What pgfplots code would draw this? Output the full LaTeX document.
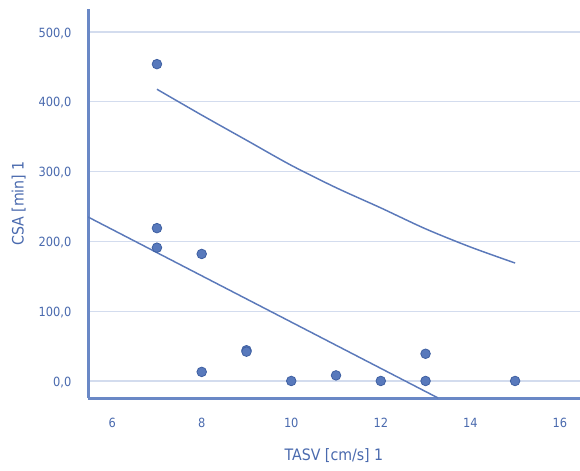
\documentclass[border=0pt]{standalone}
\usepackage{pgfplots}
\pgfplotsset{compat=1.18}
\usepackage{fontspec}
\setmainfont{DejaVu Sans Condensed}
\definecolor{txt}{HTML}{4A6AAE}
\definecolor{spine}{HTML}{6A88C6}
\definecolor{grd}{HTML}{D3DCEE}
\definecolor{ptfill}{HTML}{5879BC}
\definecolor{ptedge}{HTML}{3F60A2}
\definecolor{ln}{HTML}{5B79BA}
\begin{document}
\begin{tikzpicture}
\path[use as bounding box] (0,0) rectangle (435pt,352.5pt);
\begin{axis}[
  at={(66pt,54pt)}, anchor=south west,
  scale only axis, width=369pt, height=291.75pt,
  xmin=5.46, xmax=16.45, ymin=-24.4, ymax=533,
  axis x line*=bottom, axis y line*=left,
  axis line style={spine, line width=2.25pt, -},
  xtick={6,8,10,12,14,16},
  ytick={0,100,200,300,400,500},
  major tick length=0pt,
  ymajorgrids, grid style={grd, line width=1pt},
  tick label style={txt, font=\fontsize{9.5}{11}\selectfont, text height=1.6ex, text depth=0.2ex},
  /pgf/number format/assume math mode=true,
  yticklabel style={/pgf/number format/.cd, fixed, fixed zerofill, precision=1, use comma, 1000 sep={}},
  xticklabel style={/pgf/number format/.cd, fixed, precision=0},
  xticklabel shift=10pt,
  yticklabel shift=9pt,
  xlabel={TASV [cm/s] 1}, ylabel={CSA [min] 1},
  label style={txt, font=\fontsize{11.8}{14}\selectfont},
  xlabel style={at={(axis description cs:0.5,0)}, anchor=center, yshift=-43.5pt},
  ylabel style={at={(axis description cs:0,0.5)}, anchor=center, rotate=0, yshift=52pt},
  clip=true,
]
\addplot[ln, line width=1.1pt] coordinates {(5.46,235) (13.28,-24.4)};
\addplot[ln, line width=1.1pt, smooth] coordinates {
 (7,418) (8,381) (9,345) (10,309) (11,277) (12,248) (13,218) (14,192) (15,169)};
\addplot[only marks, mark=*, mark size=3.6pt, mark options={fill=ptfill, draw=ptedge, line width=0.6pt}] coordinates {
 (7,454) (7,219) (7,191) (8,182) (8,13) (9,44) (9,42) (10,0) (11,8) (12,0) (13,39) (13,0) (15,0)};
\end{axis}
\end{tikzpicture}
\end{document}
